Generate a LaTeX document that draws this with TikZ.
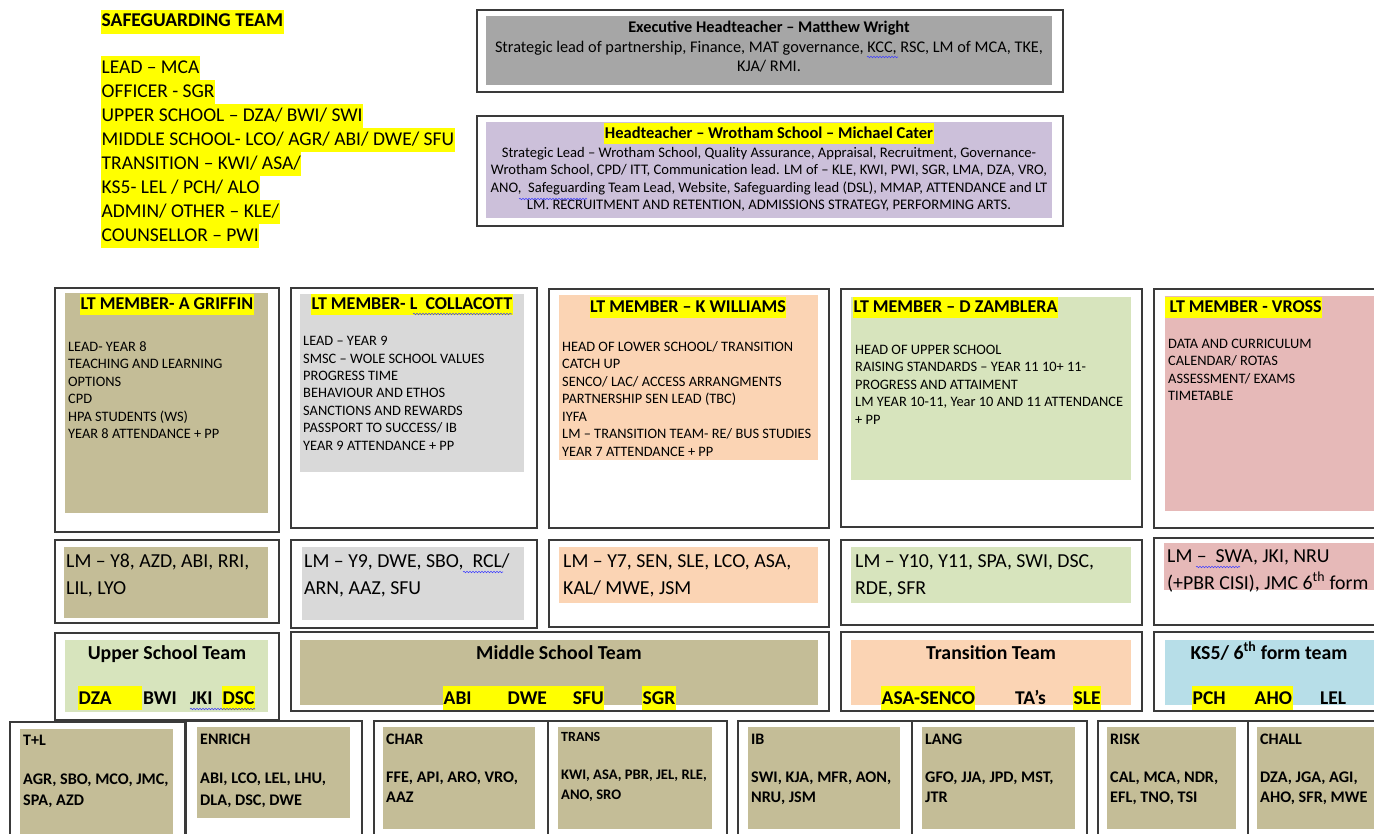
\documentclass[tikz,border=0pt]{standalone}
\usepackage{fontspec}
\setmainfont{Carlito}
\usetikzlibrary{decorations.pathmorphing}
\definecolor{exgrey}{HTML}{A6A6A6}
\definecolor{htpurple}{HTML}{CCC0DA}
\definecolor{tanfill}{HTML}{C4BD97}
\definecolor{ltgrey}{HTML}{D9D9D9}
\definecolor{peach}{HTML}{FBD4B4}
\definecolor{greenfill}{HTML}{D7E4BD}
\definecolor{pinkfill}{HTML}{E6B9B8}
\definecolor{bluefill}{HTML}{B7DEE8}
\definecolor{hlyellow}{HTML}{FFFF00}
\definecolor{edge}{HTML}{3A3A3A}
\newcommand{\fs}[1]{\fontsize{#1}{#1}\selectfont}
\newcommand{\tlines}[5]{%
  \foreach \tline [count=\ti] in {#5} {%
    \node[tx, #4] (#1-\ti) at (#2, {#3+(\ti-1)*\tsp}) {\tline};
  }%
}
\tikzset{
  ob/.style={draw=edge, line width=1.4pt},
  tx/.style={inner sep=0pt, anchor=base west},
  txc/.style={inner sep=0pt, anchor=base},
  hl/.style={fill=hlyellow, inner xsep=0.5pt, inner ysep=0pt},
  spell/.style={draw=blue!75, line width=0.6pt, decorate,
    decoration={snake, amplitude=0.7pt, segment length=3pt}},
}
\begin{document}
\begin{tikzpicture}[x=1pt, y=-1pt]
\useasboundingbox (0,0) rectangle (1374,834);
\clip (0,0) rectangle (1374,834);
\fill[white] (0,0) rectangle (1374,834);

% ---------- Safeguarding team ----------
\node[tx, hl, font=\bfseries\fs{19.5}, text height=17pt, text depth=7pt] (sgTitle) at (101,27) {SAFEGUARDING TEAM};
\def\tsp{24}
\tlines{sg}{101}{74}{hl, font=\fs{19.5}, text height=18pt, text depth=6pt}{%
{LEAD – MCA},{OFFICER - SGR},{UPPER SCHOOL – DZA/ BWI/ SWI},{MIDDLE SCHOOL- LCO/ AGR/ ABI/ DWE/ SFU},%
{TRANSITION – KWI/ ASA/},{KS5- LEL / PCH/ ALO},{ADMIN/ OTHER – KLE/},{COUNSELLOR – PWI}}

% ---------- Executive headteacher ----------
\draw[ob] (477,10) rectangle (1063,92);
\fill[exgrey] (486,16) rectangle (1052,85);
\node[txc, font=\bfseries\fs{16.3}] (exTitle) at (769,32.2) {Executive Headteacher – Matthew Wright};
\def\tsp{19}
\tlines{ex}{769}{52.2}{txc, font=\fs{16.3}}{%
{Strategic lead of partnership, Finance, MAT governance, KCC, RSC, LM of MCA, TKE,},{KJA/ RMI.}}

% ---------- Headteacher ----------
\draw[ob] (477,116) rectangle (1063,226);
\fill[htpurple] (486,122) rectangle (1052,218);
\node[txc, hl, font=\bfseries\fs{16.5}, text height=15.5pt, text depth=5.5pt] (htTitle) at (769,138.3) {Headteacher – Wrotham School – Michael Cater};
\def\tsp{17.3}
\tlines{ht}{769}{157.7}{txc, font=\fs{14.6}}{%
{Strategic Lead – Wrotham School, Quality Assurance, Appraisal, Recruitment, Governance-},%
{Wrotham School, CPD/ ITT, Communication lead. LM of – KLE, KWI, PWI, SGR, LMA, DZA, VRO,},%
{ANO,\ \ Safeguarding Team Lead, Website, Safeguarding lead (DSL), MMAP, ATTENDANCE and LT},%
{LM. RECRUITMENT AND RETENTION, ADMISSIONS STRATEGY, PERFORMING ARTS.}}

% ---------- LT member row ----------
\draw[ob] (55,288) rectangle (279,532);
\fill[tanfill] (65,293) rectangle (268,513);
\draw[ob] (291,288) rectangle (537,528);
\fill[ltgrey] (300,294) rectangle (524,472);
\draw[ob] (549,289) rectangle (829,528);
\fill[peach] (559,295) rectangle (818,460);
\draw[ob] (841,289) rectangle (1142,527);
\fill[greenfill] (851,297) rectangle (1131,480);
\draw[ob] (1154,289) rectangle (1390,528);
\fill[pinkfill] (1165,296) rectangle (1374,511);

\tikzset{lttitle/.style={hl, font=\bfseries\fs{18}, text height=15.8pt, text depth=5.2pt}}
\node[txc, lttitle] (lt1Title) at (167,309.8) {LT MEMBER- A GRIFFIN};
\node[txc, lttitle] (lt2Title) at (412,309.8) {LT MEMBER- L\ \ COLLACOTT};
\node[txc, lttitle] (lt3Title) at (688,312.8) {LT MEMBER – K WILLIAMS};
\node[tx, lttitle] (lt4Title) at (853,312.8) {LT MEMBER – D ZAMBLERA};
\node[tx, lttitle] (lt5Title) at (1165,312.8) {\hspace*{4pt}LT MEMBER - VROSS};

\def\tsp{17.4}
\tlines{lt1}{68}{351.6}{font=\fs{14.4}}{%
{LEAD- YEAR 8},{TEACHING AND LEARNING},{OPTIONS},{CPD},{HPA STUDENTS (WS)},{YEAR 8 ATTENDANCE + PP}}
\tlines{lt2}{303}{345.6}{font=\fs{14.4}}{%
{LEAD – YEAR 9},{SMSC – WOLE SCHOOL VALUES},{PROGRESS TIME},{BEHAVIOUR AND ETHOS},%
{SANCTIONS AND REWARDS},{PASSPORT TO SUCCESS/ IB},{YEAR 9 ATTENDANCE + PP}}
\tlines{lt3}{562}{351.6}{font=\fs{14.4}}{%
{HEAD OF LOWER SCHOOL/ TRANSITION},{CATCH UP},{SENCO/ LAC/ ACCESS ARRANGMENTS},%
{PARTNERSHIP SEN LEAD (TBC)},{IYFA},{LM – TRANSITION TEAM- RE/ BUS STUDIES},{YEAR 7 ATTENDANCE + PP}}
\tlines{lt4}{855}{354.6}{font=\fs{14.4}}{%
{HEAD OF UPPER SCHOOL},{RAISING STANDARDS – YEAR 11 10+ 11-},{PROGRESS AND ATTAIMENT},%
{LM YEAR 10-11, Year 10 AND 11 ATTENDANCE},{+ PP}}
\tlines{lt5}{1168}{348.6}{font=\fs{14.4}}{%
{DATA AND CURRICULUM},{CALENDAR/ ROTAS},{ASSESSMENT/ EXAMS},{TIMETABLE}}

% ---------- Line-management row ----------
\draw[ob] (55,540) rectangle (279,623);
\fill[tanfill] (64,547) rectangle (268,618);
\draw[ob] (291,540) rectangle (537,628);
\fill[ltgrey] (302,547) rectangle (524,620);
\draw[ob] (549,540) rectangle (829,627);
\fill[peach] (559,547) rectangle (818,603);
\draw[ob] (841,540) rectangle (1142,625);
\fill[greenfill] (851,547) rectangle (1131,603);
\draw[ob] (1154,538) rectangle (1390,625);
\fill[pinkfill] (1164,543) rectangle (1374,590);

\def\tsp{27}
\tlines{lm1}{66}{567.3}{font=\fs{19.8}}{{LM – Y8, AZD, ABI, RRI,},{LIL, LYO}}
\tlines{lm2}{304}{567.3}{font=\fs{19.8}}{{LM – Y9, DWE, SBO,\ \ RCL/},{ARN, AAZ, SFU}}
\tlines{lm3}{563}{567.3}{font=\fs{19.8}}{{LM – Y7, SEN, SLE, LCO, ASA,},{KAL/ MWE, JSM}}
\tlines{lm4}{855}{567.3}{font=\fs{19.8}}{{LM – Y10, Y11, SPA, SWI, DSC,},{RDE, SFR}}
\tlines{lm5}{1167}{562.3}{font=\fs{19.8}}{{LM –\ \ SWA, JKI, NRU},{(+PBR CISI), JMC 6\textsuperscript{th} form}}

% ---------- Team row ----------
\draw[ob] (55,633) rectangle (279,720);
\fill[greenfill] (65,640) rectangle (268,712);
\draw[ob] (291,632) rectangle (829,711);
\fill[tanfill] (300,640) rectangle (818,705);
\draw[ob] (841,632) rectangle (1142,711);
\fill[peach] (851,640) rectangle (1131,705);
\draw[ob] (1154,632) rectangle (1390,711);
\fill[bluefill] (1165,640) rectangle (1374,705);

\tikzset{teamtitle/.style={font=\bfseries\fs{19.8}},
         tname/.style={font=\bfseries\fs{19.5}, text height=18.2pt, text depth=5.8pt}}
\node[txc, teamtitle] (usTitle) at (167,659.3) {Upper School Team};
\node[txc, teamtitle] (msTitle) at (559,659.3) {Middle School Team};
\node[txc, teamtitle] (trTitle) at (991,659.3) {Transition Team};
\node[txc, teamtitle] (ksTitle) at (1269,659.3) {KS5/ 6\textsuperscript{th} form team};

\node[tx, tname, hl] (usDZA) at (78,704.2) {DZA\hspace*{30pt}};
\node[tx, tname] (usBWI) at (143,704.2) {BWI};
\node[tx, tname] (usJKI) at (190,704.2) {JKI};
\node[tx, tname, hl] (usDSC) at (222,704.2) {DSC};

\node[tx, tname, hl] (msABI) at (443,704.2) {ABI\hspace*{36pt}DWE\hspace*{26pt}SFU};
\node[tx, tname, hl] (msSGR) at (642,704.2) {SGR};

\node[tx, tname, hl] (trASA) at (881,704.2) {ASA-SENCO};
\node[tx, tname] (trTA) at (1015,704.2) {TA’s};
\node[tx, tname, hl] (trSLE) at (1073,704.2) {SLE};

\node[tx, tname, hl] (ksPCH) at (1192,704.2) {PCH\hspace*{29pt}AHO};
\node[tx, tname] (ksLEL) at (1320,704.2) {LEL};

% ---------- Bottom row ----------
\draw[ob] (10,722) rectangle (185,850);
\fill[tanfill] (20,729) rectangle (173,850);
\draw[ob] (186,721) rectangle (362,850);
\fill[tanfill] (197,727) rectangle (350,818);
\draw[ob] (374,721) rectangle (548,850);
\fill[tanfill] (383,727) rectangle (535,829);
\draw[ob] (548,721) rectangle (727,850);
\fill[tanfill] (558,727) rectangle (712,829);
\draw[ob] (738,721) rectangle (912,850);
\fill[tanfill] (748,727) rectangle (900,829);
\draw[ob] (912,721) rectangle (1087,850);
\fill[tanfill] (922,727) rectangle (1075,829);
\draw[ob] (1098,721) rectangle (1248,850);
\fill[tanfill] (1107,727) rectangle (1236,829);
\draw[ob] (1248,721) rectangle (1390,850);
\fill[tanfill] (1257,727) rectangle (1374,829);

\tikzset{blabel/.style={font=\bfseries\fs{16}}, bnames/.style={font=\bfseries\fs{16.2}}}
\node[tx, blabel] (tlLabel) at (23,745) {T+L};
\def\tsp{21}
\tlines{tl}{23}{784.2}{bnames}{{AGR, SBO, MCO, JMC,},{SPA, AZD}}
\node[tx, blabel] (enLabel) at (200,744) {ENRICH};
\def\tsp{22}
\tlines{en}{200}{783.2}{bnames}{{ABI, LCO, LEL, LHU,},{DLA, DSC, DWE}}
\def\tsp{20}
\node[tx, blabel] (chLabel) at (386,744) {CHAR};
\tlines{ch}{386}{782.2}{bnames}{{FFE, API, ARO, VRO,},{AAZ}}
\node[tx, font=\bfseries\fs{14}] (trsLabel) at (561,741.5) {TRANS};
\tlines{trs}{561}{779.7}{font=\bfseries\fs{14.6}}{{KWI, ASA, PBR, JEL, RLE,},{ANO, SRO}}
\node[tx, blabel] (ibLabel) at (751,744) {IB};
\tlines{ib}{751}{782.2}{bnames}{{SWI, KJA, MFR, AON,},{NRU, JSM}}
\node[tx, blabel] (lgLabel) at (925,744) {LANG};
\tlines{lg}{925}{782.2}{bnames}{{GFO, JJA, JPD, MST,},{JTR}}
\node[tx, blabel] (rkLabel) at (1110,744) {RISK};
\tlines{rk}{1110}{782.2}{bnames}{{CAL, MCA, NDR,},{EFL, TNO, TSI}}
\node[tx, blabel] (chlLabel) at (1260,744) {CHALL};
\tlines{chl}{1260}{782.2}{bnames}{{DZA, JGA, AGI,},{AHO, SFR, MWE}}

% ---------- spell-check underlines ----------
\draw[spell] (867,57) -- (898,57);
\draw[spell] (519,199) -- (587,199);
\draw[spell] (413,314) -- (512,314);
\draw[spell] (463,572) -- (503,572);
\draw[spell] (1196,567) -- (1240,567);
\draw[spell] (190,709) -- (255,709);
\end{tikzpicture}
\end{document}
